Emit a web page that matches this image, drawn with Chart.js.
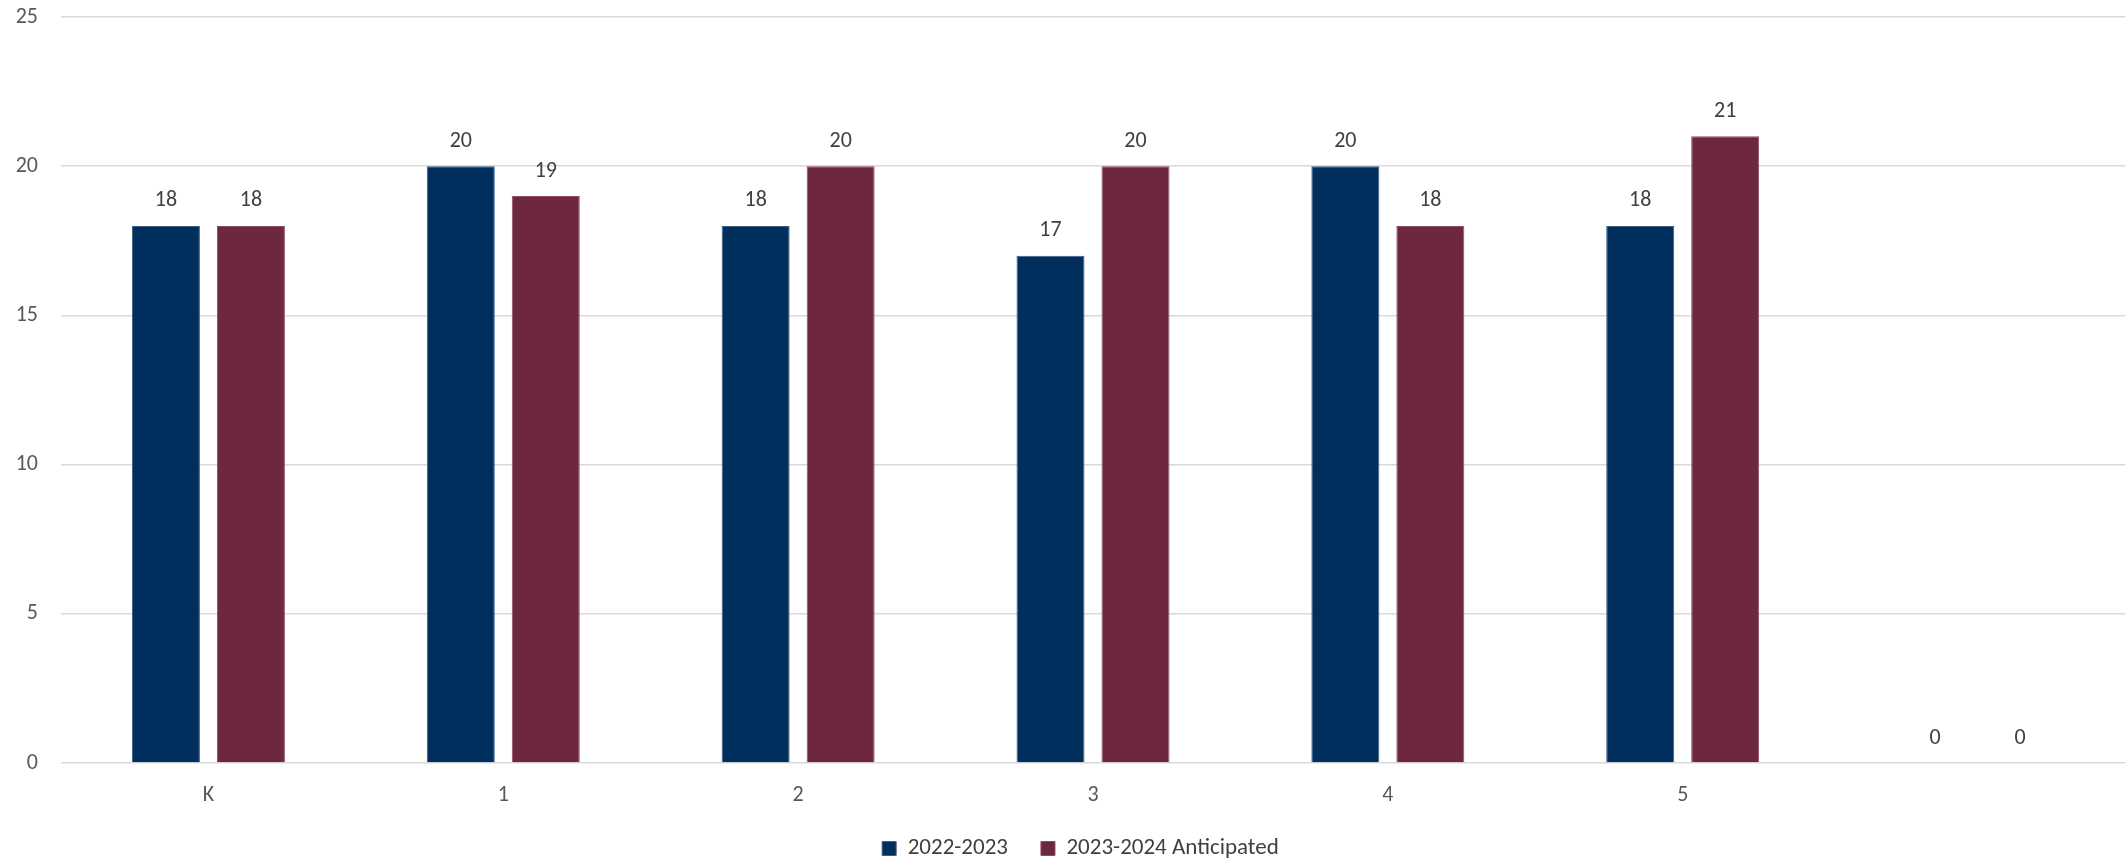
<!DOCTYPE html>
<html>
<head>
  <title>Class sizes</title>
  <script src="https://cdn.jsdelivr.net/npm/chart.js"></script>
  <style>
    body { margin: 0; background: #fff; }
    #wrap { width: 2126px; height: 863px; }
  </style>
</head>
<body>
  <div id="wrap"><canvas id="chartCanvas"></canvas></div>

<script>
  const grades = ["K", "1", "2", "3", "4", "5", ""];
  const current = [18, 20, 18, 17, 20, 18, 0];
  const anticipated = [18, 19, 20, 20, 18, 21, 0];
  const yTicks = [0, 5, 10, 15, 20, 25];

  const FONT = "'Carlito', 'Calibri', 'Lato', sans-serif";

  // draws the number above every bar (no datalabels plugin offline)
  const barLabels = {
    id: "barLabels",
    afterDatasetsDraw(chart) {
      const ctx = chart.ctx;
      ctx.save();
      ctx.font = "22px " + FONT;
      ctx.fillStyle = "#404040";
      ctx.textAlign = "center";
      ctx.textBaseline = "middle";
      chart.data.datasets.forEach((ds, i) => {
        chart.getDatasetMeta(i).data.forEach((bar, j) => {
          ctx.fillText(ds.data[j], bar.x, bar.y - 25);
        });
      });
      ctx.restore();
    }
  };

  // legend sits lower / tighter than chart.js would place it
  const legendFit = {
    id: "legendFit",
    beforeInit(chart) {
      const legend = chart.legend;
      const fit = legend.fit;
      const draw = legend.draw;
      legend.fit = function () {
        fit.call(this);
        this.height -= 7;
      };
      legend.draw = function (area) {
        this.ctx.save();
        this.ctx.translate(10, 0);
        draw.call(this, area);
        this.ctx.restore();
      };
    }
  };

  new Chart(document.getElementById("chartCanvas"), {
    type: "bar",
    data: {
      labels: grades,
      datasets: [{
        label: "2022-2023",
        data: current,
        backgroundColor: "#002F5E",
        borderColor: "#3d5d85",
        borderWidth: 1,
        categoryPercentage: 0.5765,
        barPercentage: 0.8
      }, {
        label: "2023-2024 Anticipated",
        data: anticipated,
        backgroundColor: "#6D283E",
        borderColor: "#8e4c62",
        borderWidth: 1,
        categoryPercentage: 0.5765,
        barPercentage: 0.8
      }]
    },
    options: {
      responsive: true,
      maintainAspectRatio: false,
      animation: false,
      layout: { autoPadding: false, padding: { top: 0, right: 1, left: 16, bottom: 0 } },
      scales: {
        y: {
          min: 0,
          max: 25,
          afterBuildTicks: axis => { axis.ticks = yTicks.map(v => ({ value: v })); },
          afterFit: scale => { scale.width = 45; scale.paddingTop = 17; },
          border: { display: false },
          grid: { color: "#d9d9d9", lineWidth: 1.5, drawTicks: false },
          ticks: { color: "#595959", font: { size: 22, family: FONT }, padding: 23 }
        },
        x: {
          afterFit: scale => { scale.height = 41; },
          border: { display: false },
          grid: { display: false, drawTicks: false },
          ticks: { color: "#595959", font: { size: 22, family: FONT }, padding: 19 }
        }
      },
      plugins: {
        legend: {
          position: "bottom",
          labels: {
            color: "#404040",
            font: { size: 23, family: FONT },
            boxWidth: 14,
            boxHeight: 14,
            padding: 33
          }
        },
        tooltip: { enabled: false }
      }
    },
    plugins: [barLabels, legendFit]
  });
</script>
</body>
</html>
